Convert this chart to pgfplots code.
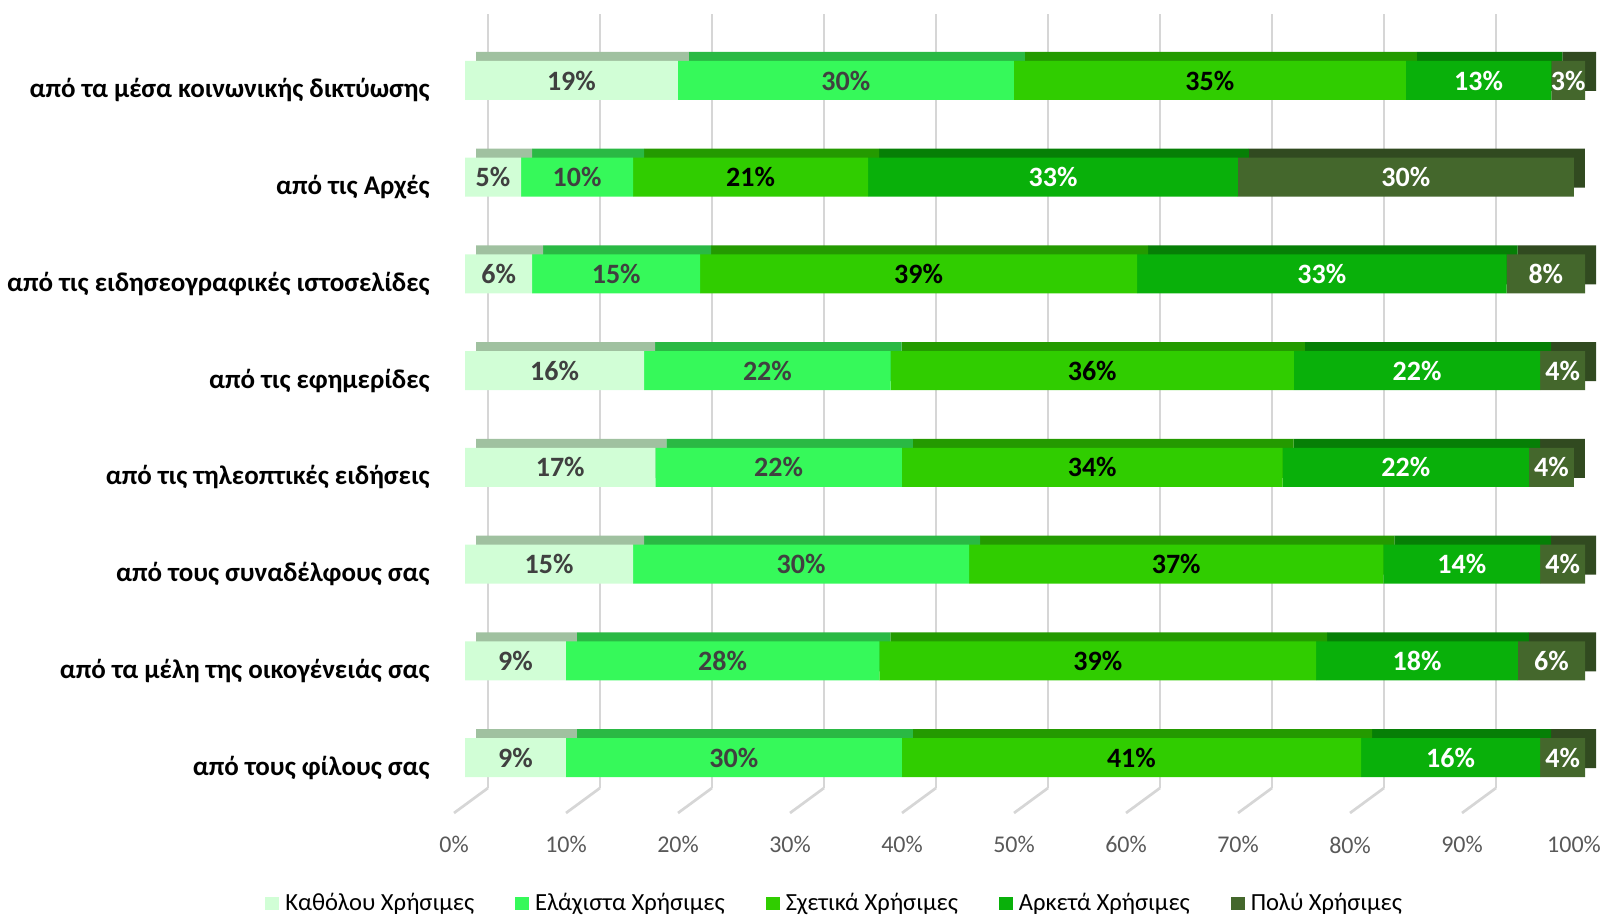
\documentclass[border=0pt]{standalone}
\usepackage{fontspec}
\setmainfont{Carlito}
\usepackage{pgfplots}
\usepackage{pgfplotstable}
\pgfplotsset{compat=1.18}

% front faces
\definecolor{c1}{HTML}{D1FED6}
\definecolor{c2}{HTML}{36F95A}
\definecolor{c3}{HTML}{30CD00}
\definecolor{c4}{HTML}{09B00A}
\definecolor{c5}{HTML}{44672C}
% top faces
\definecolor{t1}{HTML}{A0C1A0}
\definecolor{t2}{HTML}{2AB944}
\definecolor{t3}{HTML}{249A00}
\definecolor{t4}{HTML}{067F06}
\definecolor{t5}{HTML}{314A20}
\definecolor{gridc}{HTML}{D6D6D6}
\definecolor{tickc}{HTML}{595959}
\definecolor{lblc}{HTML}{404040}

% r = row (0 = bottom), a..e = Καθόλου .. Πολύ
\pgfplotstableread{
r  a   b   c   d   e
0  9   30  41  16  4
1  9   28  39  18  6
2  15  30  37  14  4
3  17  22  34  22  4
4  16  22  36  22  4
5  6   15  39  33  8
6  5   10  21  33  30
7  19  30  35  13  3
}\usedata

\pgfplotsset{
  common/.style={
    scale only axis, width=560pt,
    xmin=0, xmax=100, enlargelimits=false,
  },
  bars/.style={
    common, height=386.9pt,
    xbar stacked, bar width=19.5pt,
    ymin=-0.5, ymax=7.5,
  },
  lbl/.style={only marks, mark=none, point meta=explicit,
    nodes near coords={\pgfmathprintnumber{\pgfplotspointmeta}\%},
    every node near coord/.append style={text=#1}},
}

\begin{document}
\begin{tikzpicture}
\useasboundingbox (0,0) rectangle (802pt,457.5pt);

% back wall grid and floor lines
\begin{axis}[common, at={(244pt,63.5pt)}, anchor=south west, height=387pt,
  ymin=0, ymax=1, clip=false,
  xtick={0,10,...,100}, xticklabels={}, ytick=\empty,
  xmajorgrids, major grid style={gridc, line width=1.35pt},
  major tick length=0pt, axis line style={draw=none}]
\pgfplotsinvokeforeach{0,10,...,90}{
  \draw[gridc, line width=1.35pt] (axis cs:#1,0) -- ++(-17pt,-12.5pt);
}
\end{axis}

% top / side faces (same bars, pushed back)
\begin{axis}[bars, at={(238pt,59.05pt)}, anchor=south west, hide axis]
\addplot[fill=t1, draw=none] table[x=a, y=r] {\usedata};
\addplot[fill=t2, draw=none] table[x=b, y=r] {\usedata};
\addplot[fill=t3, draw=none] table[x=c, y=r] {\usedata};
\addplot[fill=t4, draw=none] table[x=d, y=r] {\usedata};
\addplot[fill=t5, draw=none] table[x=e, y=r] {\usedata};
\end{axis}

% front faces
\begin{axis}[bars, at={(232.5pt,54.55pt)}, anchor=south west,
  axis line style={draw=none}, major tick length=0pt,
  xtick={0,10,...,100},
  xticklabels={0\%,10\%,20\%,30\%,40\%,50\%,60\%,70\%,80\%,90\%,100\%},
  xticklabel style={anchor=center, inner sep=0pt, yshift=-19.5pt, xshift=-5.5pt,
    text=tickc, font=\fontsize{12}{14}\selectfont},
  ytick={0,...,7},
  yticklabels={από τους φίλους σας, από τα μέλη της οικογένειάς σας,
    από τους συναδέλφους σας, από τις τηλεοπτικές ειδήσεις,
    από τις εφημερίδες, από τις ειδησεογραφικές ιστοσελίδες,
    από τις Αρχές, από τα μέσα κοινωνικής δικτύωσης},
  yticklabel style={anchor=east, inner sep=0pt, xshift=-17.5pt, yshift=-5pt,
    font=\fontsize{13.5}{15}\selectfont\bfseries},
  legend image code/.code={\fill[#1] (0pt,-3.25pt) rectangle (7pt,3.25pt);},
  legend columns=5,
  legend style={at={(axis description cs:0.331,-0.1255)}, anchor=center,
    draw=none, fill=none, font=\fontsize{12.3}{14}\selectfont,
    /tikz/every odd column/.append style={column sep=1pt},
    /tikz/every even column/.append style={column sep=18.5pt}},
]
\addplot[fill=c1, draw=none] table[x=a, y=r] {\usedata};
\addplot[fill=c2, draw=none] table[x=b, y=r] {\usedata};
\addplot[fill=c3, draw=none] table[x=c, y=r] {\usedata};
\addplot[fill=c4, draw=none] table[x=d, y=r] {\usedata};
\addplot[fill=c5, draw=none] table[x=e, y=r] {\usedata};
\legend{Καθόλου Χρήσιμες, Ελάχιστα Χρήσιμες, Σχετικά Χρήσιμες,
  Αρκετά Χρήσιμες, Πολύ Χρήσιμες}
\end{axis}

% value labels, centred in each segment
\begin{axis}[common, height=386.9pt, ymin=-0.5, ymax=7.5,
  at={(232.5pt,54.55pt)}, anchor=south west, hide axis,
  /pgf/number format/assume math mode=true,
  every node near coord/.append style={anchor=center,
    font=\fontsize{14}{16}\selectfont\bfseries}]
\addplot[lbl=lblc] table[x expr={\thisrow{a}/2}, y=r, meta=a] {\usedata};
\addplot[lbl=lblc] table[x expr={\thisrow{a}+\thisrow{b}/2}, y=r, meta=b] {\usedata};
\addplot[lbl=black] table[x expr={\thisrow{a}+\thisrow{b}+\thisrow{c}/2}, y=r, meta=c] {\usedata};
\addplot[lbl=white] table[x expr={\thisrow{a}+\thisrow{b}+\thisrow{c}+\thisrow{d}/2}, y=r, meta=d] {\usedata};
\addplot[lbl=white] table[x expr={min(\thisrow{a}+\thisrow{b}+\thisrow{c}+\thisrow{d}+\thisrow{e}/2,
  (\thisrow{a}+\thisrow{b}+\thisrow{c}+\thisrow{d}+100)/2)}, y=r, meta=e] {\usedata};
\end{axis}
\end{tikzpicture}
\end{document}
